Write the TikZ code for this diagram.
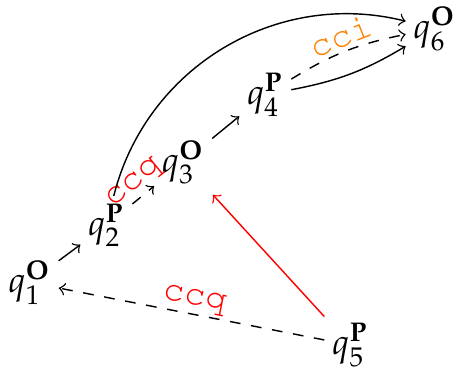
\documentclass[tikz,border=0pt]{standalone}
\usepackage[T1]{fontenc}
\usepackage{mathpazo}
\usepackage{fontspec}
\usepackage{xcolor}
\newcommand{\cod}[1]{{\fontencoding{T1}\fontfamily{pcr}\selectfont #1}}

\begin{document}
\begin{tikzpicture}[scale=0.75, >=to, every node/.style={inner sep=2pt},
  lbl/.style={sloped,above,inner sep=1pt}]
\useasboundingbox (0,0) rectangle (6,4.895);
% Estados
\node (q1) at (0.39,1.18) {$q_1^{\mathbf{O}}$};
\node (q2) at (1.40,1.93) {$q_2^{\mathbf{P}}$};
\node (q3) at (2.41,2.76) {$q_3^{\mathbf{O}}$};
\node (q4) at (3.49,3.645) {$q_4^{\mathbf{P}}$};
\node (q5) at (4.61,0.355) {$q_5^{\mathbf{P}}$};
\node (q6) at (5.72,4.52) {$q_6^{\mathbf{O}}$};
% Transicoes
\draw[->] (q1) -- (q2);
\draw[->,dashed] (q2) -- node[lbl,red] {\cod{ccq}} (q3);
\draw[->] (q3) -- (q4);
\draw[->,dashed] (q4) to[bend left=10] node[lbl,orange] {\cod{cci}} (q6);
\draw[->] (q4) to[bend right=10] (q6);
\draw[->] (q2) to[bend left=45] (q6);
\draw[->,dashed] (q5) -- node[lbl,red] {\cod{ccq}} (q1);
\draw[->,red,shorten >=1pt] (q5) -- (q3);
\end{tikzpicture}
\end{document}
